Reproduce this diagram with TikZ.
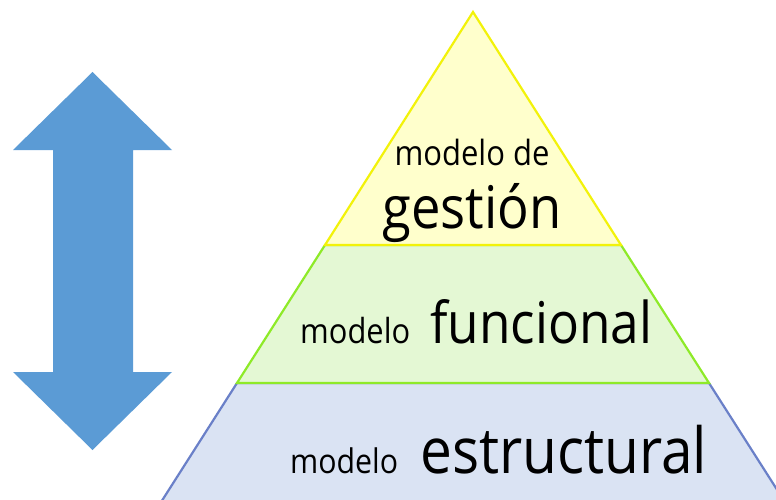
\documentclass[tikz,border=0pt]{standalone}
\usepackage{fontspec}
\setmainfont{Open Sans}
\definecolor{arrowblue}{HTML}{5B9BD5}
\definecolor{yfill}{HTML}{FFFFCC}
\definecolor{yline}{HTML}{F2F20A}
\definecolor{gfill}{HTML}{E4F8D4}
\definecolor{gline}{HTML}{8EEA28}
\definecolor{bfill}{HTML}{DAE3F3}
\definecolor{bline}{HTML}{6A80C8}
\tikzset{
  lbl/.style={anchor=base west, inner sep=0pt, text=black},
  lblc/.style={anchor=base, inner sep=0pt, text=black},
  layer/.style={line width=2.2pt, line join=miter}
}
\newcommand{\fitw}[2]{\scalebox{1}[1.12]{\resizebox{#1pt}{!}{\fontsize{40}{48}\selectfont #2}}}
\begin{document}
\begin{tikzpicture}[x=1pt,y=-1pt]
\useasboundingbox (0,0) rectangle (776,500);
\clip (0,0) rectangle (776,500);
% double arrow
\fill[arrowblue] (92.5,72) -- (172,150) -- (133,150) -- (133,372) -- (172,372)
  -- (92.5,450) -- (13,372) -- (53,372) -- (53,150) -- (13,150) -- cycle;
% pyramid layers (bottom first)
\filldraw[layer, fill=bfill, draw=bline] (237,383) -- (709,383) -- (790,510) -- (156,510) -- cycle;
\filldraw[layer, fill=gfill, draw=gline] (325,245) -- (621,245) -- (709,383) -- (237,383) -- cycle;
\filldraw[layer, fill=yfill, draw=yline] (473,12) -- (621,245) -- (325,245) -- cycle;
% labels
\node[lblc] (t1) at (472,165) {\fitw{155}{modelo de}};
\node[lblc] (t2) at (472,228) {\fitw{179}{gestión}};
\node[lbl] (f1) at (300,343) {\fitw{110}{modelo}};
\node[lbl] (f2) at (430,343) {\fitw{222}{funcional}};
\node[lbl] (e1) at (290,473) {\fitw{108}{modelo}};
\node[lbl] (e2) at (420,473) {\fitw{287}{estructural}};
\end{tikzpicture}
\end{document}
